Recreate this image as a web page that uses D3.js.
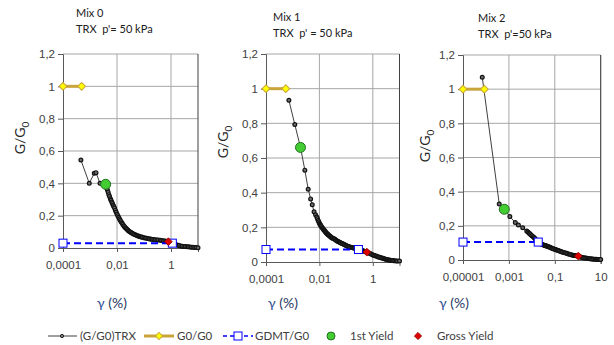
<!DOCTYPE html>
<html><head><meta charset="utf-8">
<script src="https://cdn.jsdelivr.net/npm/d3@7"></script>
<style>
body{margin:0;background:#fff;}
svg{display:block;font-family:Lato,"Open Sans",sans-serif;}
</style></head>
<body><svg id="c" width="614" height="345"></svg>
<script>
// ---- data ----
const panelTitles = ["Mix 0", "Mix 1", "Mix 2"];
const panelSubtitles = ["TRX  p'= 50 kPa", "TRX  p' = 50 kPa", "TRX  p'=50 kPa"];
const yTicks = [0, 0.2, 0.4, 0.6, 0.8, 1, 1.2];
const yTickLabels = ["0", "0,2", "0,4", "0,6", "0,8", "1", "1,2"];
const xTicks01 = [0.0001, 0.01, 1];
const xTickLabels01 = ["0,0001", "0,01", "1"];
const xTicks2 = [0.00001, 0.001, 0.1, 10];
const xTickLabels2 = ["0,00001", "0,001", "0,1", "10"];
const legendLabels = ["(G/G0)TRX", "G0/G0", "GDMT/G0", "1st Yield", "Gross Yield"];

// Mix 0: [strain %, G/G0]
const trx0 = [[0.00046,0.544],[0.00094,0.40],[0.00144,0.462],[0.00167,0.466],[0.00235,0.40],
 [0.0038,0.39],[0.0041,0.375],[0.0044,0.36],[0.0047,0.345],[0.005,0.33],[0.0053,0.318],[0.0057,0.305],[0.006,0.295],
 [0.0064,0.285],[0.0068,0.275],[0.0072,0.265],[0.0076,0.257],[0.0081,0.247],[0.0087,0.234],[0.0093,0.222],[0.01,0.21],
 [0.0107,0.2],[0.0115,0.19],[0.0123,0.181],[0.0132,0.172],[0.0142,0.163],[0.0153,0.155],[0.0165,0.146],[0.0178,0.138],
 [0.019,0.132],[0.0205,0.126],[0.022,0.12],[0.024,0.114],[0.026,0.109],[0.028,0.104],[0.031,0.099],[0.034,0.095],
 [0.037,0.091],[0.041,0.087],[0.045,0.083],[0.05,0.08],[0.055,0.077],[0.06,0.075],[0.066,0.072],[0.072,0.07],
 [0.08,0.068],[0.088,0.066],[0.098,0.064],[0.11,0.062],[0.125,0.06],[0.14,0.058],[0.16,0.056],[0.18,0.055],
 [0.2,0.053],[0.23,0.052],[0.26,0.051],[0.3,0.05],[0.34,0.049],[0.4,0.048],[0.45,0.046],[0.52,0.045],[0.6,0.044],
 [0.68,0.042],[0.78,0.04],[0.88,0.037],[1,0.034],[1.1,0.031],[1.25,0.028],[1.4,0.024],[1.6,0.02],[1.8,0.017],
 [2,0.015],[2.3,0.013],[2.6,0.011],[3,0.01],[3.4,0.009],[3.9,0.008],[4.4,0.007],[5,0.006],[5.7,0.005],[6.5,0.004],
 [7.5,0.003],[8.5,0.003],[10,0.002]];
const g0Line0 = [[0.0001,1],[0.00049,1]];
const gdmt0 = [[0.0001,0.03],[1.12,0.03]];
const yield1st0 = [0.0038, 0.394];
const yieldGross0 = [0.8, 0.039];

// Mix 1
const trx1 = [[0.00072,0.933],[0.0012,0.793],[0.00196,0.661],[0.00285,0.53],[0.0038,0.42],[0.0047,0.364],[0.0054,0.33],
 [0.0063,0.29],[0.0072,0.272],[0.008,0.259],[0.0085,0.25],[0.009,0.24],[0.0095,0.232],[0.01,0.224],[0.0105,0.218],
 [0.011,0.213],[0.0115,0.208],[0.012,0.204],[0.0128,0.198],[0.0135,0.193],[0.0142,0.188],[0.015,0.184],[0.0157,0.18],
 [0.0165,0.176],[0.0173,0.172],[0.018,0.169],[0.019,0.165],[0.02,0.162],[0.021,0.159],[0.022,0.156],[0.0235,0.152],
 [0.025,0.148],[0.0265,0.145],[0.028,0.142],[0.03,0.139],[0.032,0.137],[0.0345,0.134],[0.037,0.132],[0.04,0.128],
 [0.042,0.126],[0.045,0.123],[0.048,0.12],[0.052,0.117],[0.055,0.115],[0.06,0.112],[0.064,0.11],[0.07,0.107],
 [0.075,0.105],[0.082,0.102],[0.089,0.099],[0.097,0.096],[0.105,0.094],[0.115,0.091],[0.125,0.089],[0.137,0.087],
 [0.15,0.085],[0.165,0.083],[0.18,0.082],[0.195,0.081],[0.21,0.08],[0.23,0.078],[0.25,0.077],[0.27,0.075],[0.3,0.074],
 [0.33,0.072],[0.36,0.07],[0.4,0.067],[0.43,0.065],[0.47,0.062],[0.52,0.06],[0.56,0.058],[0.6,0.057],[0.67,0.053],
 [0.75,0.05],[0.82,0.047],[0.9,0.044],[1,0.041],[1.1,0.039],[1.2,0.036],[1.35,0.034],[1.5,0.031],[1.65,0.029],
 [1.8,0.027],[2,0.025],[2.2,0.023],[2.4,0.021],[2.65,0.019],[2.9,0.017],[3.2,0.015],[3.5,0.014],[3.8,0.012],
 [4.2,0.011],[4.6,0.01],[5,0.009],[5.5,0.008],[6,0.007],[6.7,0.0065],[7.5,0.006],[8.5,0.006],[10,0.006]];
const g0Line1 = [[0.0001,1],[0.00055,1]];
const gdmt1 = [[0.0001,0.072],[0.29,0.072]];
const yield1st1 = [0.00196, 0.661];
const yieldGross1 = [0.6, 0.057];

// Mix 2
const trx2 = [[0.000069,1.07],[0.00038,0.328],[0.00063,0.297],[0.0011,0.254],[0.0019,0.219],[0.0026,0.205],[0.004,0.189],
 [0.006,0.17],[0.0067,0.164],[0.0075,0.158],[0.0082,0.153],[0.009,0.148],[0.01,0.142],[0.0115,0.136],[0.0127,0.13],
 [0.014,0.125],[0.0155,0.117],[0.017,0.11],[0.019,0.105],[0.021,0.1],[0.0235,0.097],[0.026,0.094],[0.029,0.091],
 [0.032,0.088],[0.035,0.086],[0.038,0.084],[0.041,0.083],[0.044,0.082],[0.048,0.08],[0.052,0.078],[0.057,0.076],
 [0.062,0.074],[0.068,0.071],[0.075,0.069],[0.082,0.067],[0.09,0.065],[0.1,0.063],[0.11,0.061],[0.12,0.059],
 [0.13,0.057],[0.145,0.055],[0.16,0.053],[0.18,0.05],[0.2,0.048],[0.22,0.046],[0.25,0.044],[0.29,0.041],[0.33,0.039],
 [0.37,0.036],[0.42,0.034],[0.48,0.032],[0.55,0.03],[0.62,0.028],[0.7,0.027],[0.77,0.026],[0.85,0.025],[0.95,0.024],
 [1.06,0.023],[1.18,0.02],[1.3,0.018],[1.45,0.016],[1.6,0.015],[1.8,0.013],[2,0.012],[2.25,0.011],[2.5,0.01],
 [2.85,0.009],[3.2,0.008],[3.6,0.007],[4,0.006],[4.5,0.0055],[5,0.005],[5.7,0.0045],[6.5,0.004],[7.2,0.0035],
 [8,0.003],[9,0.003],[10,0.003]];
const g0Line2 = [[0.00001,1],[0.000085,1]];
const gdmt2 = [[0.00001,0.105],[0.019,0.105]];
const yield1st2 = [0.00063, 0.297];
const yieldGross2 = [1.06, 0.023];

// ---- layout (not data) ----
const panels = [
  {x0:63, x1:198, yTop:54, yBot:248, xDom:[0.0001,10], ticks:xTicks01, tl:xTickLabels01,
   trx:trx0, g0:g0Line0, gd:gdmt0, y1:yield1st0, yg:yieldGross0,
   tx:76, ty:17, yt:[25,138], gx:[112,308]},
  {x0:266, x1:399.5, yTop:54, yBot:262, xDom:[0.0001,10], ticks:xTicks01, tl:xTickLabels01,
   trx:trx1, g0:g0Line1, gd:gdmt1, y1:yield1st1, yg:yieldGross1,
   tx:273, ty:21, yt:[228,142], gx:[283,308]},
  {x0:463, x1:600.7, yTop:55, yBot:260, xDom:[0.00001,10], ticks:xTicks2, tl:xTickLabels2,
   trx:trx2, g0:g0Line2, gd:gdmt2, y1:yield1st2, yg:yieldGross2,
   tx:478, ty:22, yt:[430,146], gx:[454,308]}
];

const svg = d3.select("#c");
const txtCol = "#404040";
const gridCol = "#a6a6a6";
const rhomb = size => d3.symbol().type(d3.symbolSquare).size(size)();

panels.forEach((p, i) => {
  const x = d3.scaleLog().domain(p.xDom).range([p.x0, p.x1]);
  const y = d3.scaleLinear().domain([0, 1.2]).range([p.yBot, p.yTop]);
  const g = svg.append("g");

  g.selectAll(".hg").data(yTicks.filter(v => v > 0)).join("line")
    .attr("x1", p.x0).attr("x2", p.x1)
    .attr("y1", d => y(d)).attr("y2", d => y(d))
    .attr("stroke", gridCol).attr("stroke-width", 1);
  g.selectAll(".vg").data(p.ticks.slice(1)).join("line")
    .attr("x1", d => x(d)).attr("x2", d => x(d))
    .attr("y1", p.yTop).attr("y2", p.yBot)
    .attr("stroke", gridCol).attr("stroke-width", 1);
  g.append("line").attr("x1", p.x1).attr("x2", p.x1).attr("y1", p.yTop).attr("y2", p.yBot)
    .attr("stroke", "#404040").attr("stroke-width", 1);

  const ya = d3.axisLeft(y).tickValues(yTicks).tickFormat((d, k) => yTickLabels[k]).tickSize(5).tickPadding(3);
  const yg = g.append("g").attr("transform", `translate(${p.x0},0)`).call(ya);
  yg.select(".domain").attr("stroke", "#595959");
  yg.selectAll(".tick line").attr("stroke", "#595959");
  yg.selectAll("text").attr("fill", txtCol).style("font-size", "11.5px");

  const xa = d3.axisBottom(x).tickValues(p.ticks).tickFormat((d, k) => p.tl[k]).tickSize(4).tickPadding(9);
  const xg = g.append("g").attr("transform", `translate(0,${p.yBot})`).call(xa);
  xg.select(".domain").attr("stroke", "#595959");
  xg.selectAll(".tick line").attr("stroke", "#595959");
  xg.selectAll("text").attr("fill", txtCol).style("font-size", "11.5px");

  g.append("text").attr("x", p.tx).attr("y", p.ty).attr("fill", "#202020")
    .style("font-size", "11px").text(panelTitles[i]);
  g.append("text").attr("x", p.tx).attr("y", p.ty + 16).attr("fill", "#202020")
    .style("font-size", "11px").style("white-space", "pre").text(panelSubtitles[i]);

  const yt = g.append("text").attr("transform", `translate(${p.yt[0]},${p.yt[1]}) rotate(-90)`)
    .attr("text-anchor", "middle").attr("fill", "#262626").style("font-size", "14px");
  yt.append("tspan").text("G/G");
  yt.append("tspan").attr("dy", 4).style("font-size", "10px").text("0");

  const xt = g.append("text").attr("x", p.gx[0]).attr("y", p.gx[1]).attr("text-anchor", "middle")
    .style("font-size", "14px");
  xt.append("tspan").attr("fill", "#2e4f8f").text("γ");
  xt.append("tspan").attr("fill", "#1f3864").text(" (%)");

  const line = d3.line().x(d => x(d[0])).y(d => y(d[1]));
  // TRX
  g.append("path").datum(p.trx).attr("d", line).attr("fill", "none")
    .attr("stroke", "#404040").attr("stroke-width", 1);
  g.selectAll(".trx").data(p.trx).join("circle")
    .attr("cx", d => x(d[0])).attr("cy", d => y(d[1])).attr("r", 1.9)
    .attr("fill", "#6e6e6e").attr("stroke", "#111").attr("stroke-width", 1.2);

  // GDMT
  g.append("path").datum(p.gd).attr("d", line).attr("fill", "none")
    .attr("stroke", "#0000ff").attr("stroke-width", 2).attr("stroke-dasharray", "7,4");
  g.selectAll(".dsq").data(p.gd).join("rect")
    .attr("x", d => x(d[0]) - 4).attr("y", d => y(d[1]) - 4).attr("width", 8).attr("height", 8)
    .attr("fill", "#fff").attr("stroke", "#0000ff").attr("stroke-width", 1);

  // G0
  g.append("path").datum(p.g0).attr("d", line).attr("fill", "none")
    .attr("stroke", "#c9a43a").attr("stroke-width", 3);
  g.selectAll(".gd").data(p.g0).join("path")
    .attr("d", rhomb(30)).attr("transform", d => `translate(${x(d[0])},${y(d[1])}) rotate(45)`)
    .attr("fill", "#ffff00").attr("stroke", "#c9a43a").attr("stroke-width", 1);

  // yields
  g.append("circle").attr("cx", x(p.y1[0])).attr("cy", y(p.y1[1])).attr("r", 5)
    .attr("fill", "#44cc33").attr("stroke", "#207020").attr("stroke-width", 1);
  g.append("path").attr("d", rhomb(30))
    .attr("transform", `translate(${x(p.yg[0])},${y(p.yg[1])}) rotate(45)`)
    .attr("fill", "#e00000").attr("stroke", "#900000").attr("stroke-width", 0.8);
});

// legend
const ly = 336;
const lg = svg.append("g").style("font-size", "11.5px");
lg.append("line").attr("x1", 48).attr("x2", 77).attr("y1", ly).attr("y2", ly).attr("stroke", "#404040").attr("stroke-width", 1);
lg.append("circle").attr("cx", 62).attr("cy", ly).attr("r", 1.6).attr("fill", "#8a8a8a").attr("stroke", "#1a1a1a").attr("stroke-width", 1);
lg.append("text").attr("x", 80).attr("y", ly + 4).attr("fill", txtCol).text(legendLabels[0]);
lg.append("line").attr("x1", 144).attr("x2", 174).attr("y1", ly).attr("y2", ly).attr("stroke", "#c9a43a").attr("stroke-width", 3);
lg.append("path").attr("d", rhomb(26)).attr("transform", `translate(159,${ly}) rotate(45)`).attr("fill", "#ffff00").attr("stroke", "#c9a43a");
lg.append("text").attr("x", 177).attr("y", ly + 4).attr("fill", txtCol).text(legendLabels[1]);
lg.append("line").attr("x1", 223).attr("x2", 253).attr("y1", ly).attr("y2", ly).attr("stroke", "#0000ff").attr("stroke-width", 1.5).attr("stroke-dasharray", "4,3");
lg.append("rect").attr("x", 234).attr("y", ly - 4).attr("width", 8).attr("height", 8).attr("fill", "#fff").attr("stroke", "#0000ff");
lg.append("text").attr("x", 255).attr("y", ly + 4).attr("fill", txtCol).text(legendLabels[2]);
lg.append("circle").attr("cx", 331).attr("cy", ly).attr("r", 4).attr("fill", "#44cc33").attr("stroke", "#207020");
lg.append("text").attr("x", 350).attr("y", ly + 4).attr("fill", txtCol).text(legendLabels[3]);
lg.append("path").attr("d", rhomb(26)).attr("transform", `translate(418,${ly}) rotate(45)`).attr("fill", "#e00000").attr("stroke", "#900000").attr("stroke-width", 0.8);
lg.append("text").attr("x", 437).attr("y", ly + 4).attr("fill", txtCol).text(legendLabels[4]);
</script>
</body></html>
